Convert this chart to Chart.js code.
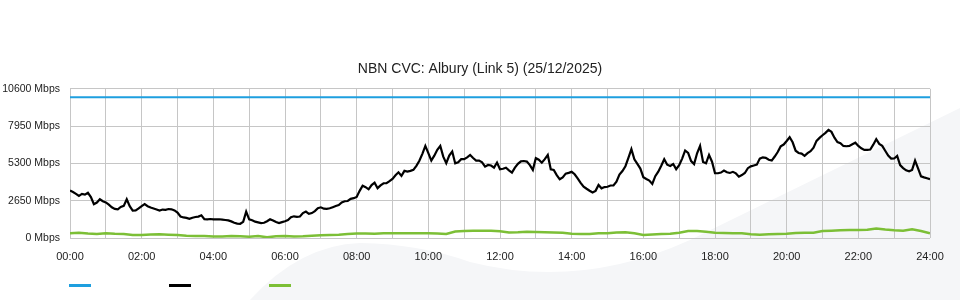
<!DOCTYPE html>
<html>
<head>
<meta charset="utf-8">
<script src="https://cdn.jsdelivr.net/npm/chart.js@4"></script>
<style>
  html, body { margin: 0; padding: 0; background: #fff; }
  #wrap { width: 960px; height: 300px; }
</style>
</head>
<body>
<div id="wrap"><canvas id="cvcChart" width="960" height="300"></canvas></div>
<script>
// x axis: minutes since midnight, labels every 2 hours
const tickLabels = ["00:00", "02:00", "04:00", "06:00", "08:00", "10:00", "12:00",
    "14:00", "16:00", "18:00", "20:00", "22:00", "24:00"];
const yTicks = [0, 2650, 5300, 7950, 10600];

// capacity (blue), flat line
const capacityTimes = [0, 1440];
const capacity = [10000, 10000];

// traffic (black), one value every 5 minutes
const trafficStep = 5;
const traffic = [
    3370, 3270, 3140, 2990, 3130, 3080, 3210, 2910, 2400, 2520, 2750, 2610,
    2530, 2370, 2180, 2070, 2040, 2210, 2280, 2750, 2260, 1940, 1960, 2100,
    2270, 2410, 2260, 2170, 2100, 2030, 1950, 2020, 2000, 2060, 2040, 1960,
    1800, 1530, 1460, 1430, 1360, 1440, 1490, 1520, 1610, 1340, 1320, 1350,
    1330, 1330, 1330, 1310, 1280, 1250, 1180, 1080, 1020, 1010, 1150, 1870,
    1330, 1260, 1160, 1110, 1060, 1080, 1190, 1330, 1240, 1130, 1060, 1130,
    1190, 1270, 1470, 1540, 1500, 1530, 1770, 1880, 1720, 1770, 1910, 2120,
    2180, 2080, 2070, 2110, 2190, 2270, 2340, 2520, 2610, 2630, 2780, 2830,
    2920, 3350, 3710, 3610, 3460, 3760, 3930, 3540, 3740, 3890, 3890, 4040,
    4200, 4460, 4670, 4410, 4770, 4720, 4770, 4840, 5130, 5490, 5980, 6540,
    6030, 5500, 5850, 6270, 6540, 5780, 5310, 5860, 6140, 5300, 5380, 5600,
    5600, 5730, 5900, 5680, 5500, 5500, 5380, 5070, 5190, 5150, 5000, 5360,
    4880, 4920, 4990, 4810, 4650, 5000, 5270, 5450, 5470, 5430, 5180, 4840,
    5670, 5560, 5350, 5600, 5900, 4880, 4830, 4470, 4170, 4300, 4570, 4630,
    4700, 4530, 4240, 3920, 3650, 3500, 3360, 3230, 3350, 3770, 3530, 3620,
    3640, 3730, 3730, 4000, 4500, 4760, 5100, 5700, 6310, 5590, 5260, 4930,
    4320, 4190, 4080, 3840, 4390, 4710, 5130, 5600, 5210, 5120, 5260, 4890,
    5170, 5640, 6220, 6050, 5460, 5250, 6020, 6540, 5400, 5310, 5900, 5420,
    4600, 4600, 4650, 4790, 4670, 4620, 4700, 4590, 4360, 4470, 4620, 4960,
    5090, 5150, 5210, 5640, 5730, 5690, 5560, 5500, 5790, 6110, 6510, 6640,
    6890, 7160, 6800, 6200, 6040, 6000, 5840, 6030, 6170, 6410, 6900, 7110,
    7300, 7470, 7680, 7540, 7130, 6820, 6740, 6540, 6520, 6540, 6660, 6770,
    6540, 6370, 6260, 6260, 6290, 6630, 7020, 6690, 6550, 6200, 5860, 5640,
    5650, 5830, 5180, 4970, 4810, 4740, 4840, 5500, 4950, 4380, 4310, 4250,
    4180
];

// upload / other (green), one value every 15 minutes
const lowStep = 15;
const lowTraffic = [
    330, 380, 320, 290, 330, 300, 285, 210, 210, 240, 260, 230,
    210, 160, 140, 140, 110, 110, 140, 120, 90, 140, 50, 120,
    140, 110, 120, 160, 190, 210, 235, 285, 320, 320, 310, 330,
    330, 330, 330, 330, 330, 320, 285, 460, 500, 520, 520, 520,
    480, 390, 410, 450, 430, 410, 390, 380, 310, 290, 290, 330,
    330, 390, 400, 330, 210, 250, 285, 310, 380, 500, 500, 450,
    380, 360, 330, 330, 260, 235, 260, 285, 310, 360, 380, 380,
    500, 520, 550, 570, 570, 590, 680, 600, 550, 520, 620, 500,
    330
];

const seriesColors = ["#1e9fdf", "#000000", "#7cbf36"];

const toPoints = (values, step) => values.map((v, i) => ({ x: i * step, y: v }));

// faint swoosh in the background
const backdrop = {
    id: "backdrop",
    beforeDraw(chart) {
        const c = chart.ctx;
        c.save();
        c.fillStyle = "#ffffff";
        c.fillRect(0, 0, chart.width, chart.height);
        c.fillStyle = "#f5f6f8";
        c.beginPath();
        c.moveTo(250, 300);
        c.quadraticCurveTo(300, 245, 360, 243);
        c.quadraticCurveTo(420, 244, 470, 262);
        c.quadraticCurveTo(580, 290, 690, 240);
        c.lineTo(960, 108);
        c.lineTo(960, 300);
        c.closePath();
        c.fill();
        c.restore();
    }
};

// legend: coloured line segments only, no text
const lineLegend = {
    id: "lineLegend",
    afterDraw(chart) {
        const c = chart.ctx;
        c.save();
        chart.data.datasets.forEach((ds, i) => {
            c.fillStyle = ds.borderColor;
            c.fillRect(69 + i * 100, 284, 22, 3);
        });
        c.restore();
    }
};

const ctx = document.getElementById("cvcChart").getContext("2d");

new Chart(ctx, {
    type: "line",
    data: {
        datasets: [
            {
                label: "",
                data: capacity.map((v, i) => ({ x: capacityTimes[i], y: v })),
                borderColor: seriesColors[0],
                borderWidth: 2,
                pointRadius: 0
            },
            {
                label: "",
                data: toPoints(traffic, trafficStep),
                borderColor: seriesColors[1],
                borderWidth: 2.2,
                pointRadius: 0
            },
            {
                label: "",
                data: toPoints(lowTraffic, lowStep),
                borderColor: seriesColors[2],
                borderWidth: 2.5,
                pointRadius: 0
            }
        ]
    },
    options: {
        responsive: false,
        animation: false,
        layout: { padding: { left: 0, right: 0, top: 0, bottom: 30 } },
        plugins: {
            legend: { display: false },
            tooltip: { enabled: false },
            title: {
                display: true,
                text: "NBN CVC: Albury (Link 5) (25/12/2025)",
                color: "#222",
                font: { family: "'Liberation Sans', Arial, sans-serif", size: 14, weight: "normal" },
                padding: { top: 61, bottom: 11 }
            }
        },
        scales: {
            x: {
                type: "linear",
                min: 0,
                max: 1440,
                afterFit: (scale) => { scale.height = 32; },
                afterBuildTicks: (scale) => {
                    scale.ticks = [];
                    for (let m = 0; m <= 1440; m += 60) scale.ticks.push({ value: m });
                },
                ticks: {
                    autoSkip: false,
                    maxRotation: 0,
                    padding: 12,
                    color: "#222",
                    font: { family: "'Liberation Sans', Arial, sans-serif", size: 11 },
                    callback: (v) => (v % 120 === 0 ? tickLabels[v / 120] : "")
                },
                grid: { color: "#c6c6c6", drawTicks: false },
                border: { display: false }
            },
            y: {
                min: 0,
                max: 10600,
                afterFit: (scale) => { scale.width = 70; },
                afterBuildTicks: (scale) => {
                    scale.ticks = yTicks.map((v) => ({ value: v }));
                },
                ticks: {
                    padding: 10,
                    color: "#222",
                    font: { family: "'Liberation Sans', Arial, sans-serif", size: 10.5 },
                    callback: (v) => v + " Mbps"
                },
                grid: { color: "#c6c6c6", drawTicks: false },
                border: { display: false }
            },
            // empty right-hand axis, only keeps 30px of room so the title stays centred
            yRight: {
                position: "right",
                min: 0,
                max: 10600,
                afterFit: (scale) => { scale.width = 30; },
                ticks: { display: false },
                grid: { display: false },
                border: { display: false }
            }
        }
    },
    plugins: [backdrop, lineLegend]
});
</script>
</body>
</html>
